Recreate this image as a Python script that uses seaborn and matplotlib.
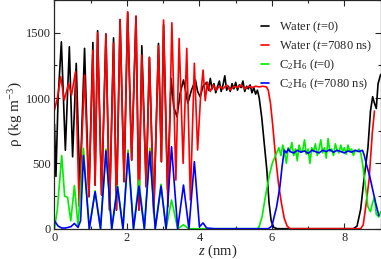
import pandas as pd
import seaborn as sns
import matplotlib.pyplot as plt
from matplotlib.ticker import MultipleLocator

sns.set_style("ticks")
plt.rcParams['font.family'] = ['Liberation Serif', 'DejaVu Serif']
plt.rcParams['mathtext.fontset'] = 'custom'
plt.rcParams['mathtext.rm'] = 'Liberation Serif'
plt.rcParams['mathtext.it'] = 'Liberation Serif:italic'

# density profiles: (z in nm, rho in kg/m^3)
water_t0 = [
    (0.00, 800), (0.04, 400), (0.10, 1000), (0.19, 1430), (0.30, 600), (0.41, 1392),
    (0.50, 550), (0.60, 1265), (0.70, 320), (0.83, 1380), (0.95, 245), (1.06, 1425),
    (1.12, 334), (1.19, 1515), (1.30, 258), (1.42, 1490), (1.52, 143), (1.63, 1460),
    (1.71, 143), (1.81, 1600), (1.92, 360), (2.02, 1655), (2.13, 525), (2.25, 1625),
    (2.33, 143), (2.41, 1400), (2.53, 321), (2.62, 1311), (2.74, 118), (2.87, 1418),
    (2.95, 513), (3.01, 1560), (3.12, 300), (3.22, 1150), (3.29, 933), (3.38, 857),
    (3.47, 1040), (3.56, 1138), (3.62, 1050), (3.68, 960), (3.78, 1060), (3.89, 1138),
    (3.95, 1050), (4.02, 1010), (4.10, 1090), (4.20, 1120), (4.25, 1060), (4.30, 1150),
    (4.35, 1070), (4.40, 1110), (4.45, 1040), (4.50, 1090), (4.55, 1130), (4.60, 1050),
    (4.65, 1100), (4.70, 1170), (4.75, 1060), (4.80, 1090), (4.85, 1050), (4.90, 1110),
    (4.95, 1070), (5.00, 1120), (5.05, 1060), (5.10, 1100), (5.15, 1080), (5.20, 1130),
    (5.25, 1050), (5.30, 1090), (5.35, 1070), (5.40, 1100), (5.45, 1040), (5.50, 1080),
    (5.55, 1030), (5.60, 1060), (5.65, 1000), (5.72, 850), (5.80, 620), (5.86, 450),
    (5.92, 200), (5.98, 60), (6.05, 10), (6.15, 0), (8.25, 0), (8.35, 20), (8.45, 150),
    (8.55, 400), (8.65, 620), (8.72, 900), (8.78, 1010), (8.83, 960), (8.88, 920),
    (8.93, 1110), (9.00, 1180),
]

water_t7080 = [
    (0.00, 908), (0.08, 1000), (0.17, 1163), (0.27, 985), (0.39, 1112), (0.47, 1023),
    (0.58, 1201), (0.68, 170), (0.83, 1176), (0.95, 245), (1.06, 1367), (1.12, 334),
    (1.19, 1500), (1.30, 258), (1.42, 1490), (1.52, 143), (1.63, 1420), (1.71, 143),
    (1.81, 1600), (1.92, 360), (2.02, 1660), (2.13, 525), (2.25, 1627), (2.33, 143),
    (2.41, 1330), (2.53, 321), (2.62, 1311), (2.74, 118), (2.87, 1400), (2.95, 513),
    (3.01, 1597), (3.13, 168), (3.24, 1576), (3.35, 372), (3.44, 1456), (3.55, 500),
    (3.65, 1380), (3.75, 220), (3.86, 1266), (3.95, 602), (4.03, 1000), (4.10, 1214),
    (4.16, 980), (4.22, 1120), (4.30, 1050), (4.38, 1100), (4.46, 1060), (4.55, 1090),
    (4.65, 1070), (4.75, 1100), (4.85, 1060), (4.95, 1090), (5.05, 1080), (5.15, 1100),
    (5.25, 1070), (5.35, 1090), (5.45, 1080), (5.55, 1090), (5.65, 1085), (5.75, 1090),
    (5.85, 1085), (5.90, 1060), (5.96, 960), (6.02, 800), (6.10, 550), (6.18, 350),
    (6.26, 200), (6.34, 80), (6.42, 20), (6.50, 0), (8.45, 0), (8.52, 30), (8.59, 170),
    (8.68, 370), (8.77, 730), (8.83, 900),
]

ethane_t0 = [
    (0.00, 0), (0.08, 150), (0.20, 560), (0.28, 250), (0.36, 240), (0.45, 60),
    (0.55, 330), (0.65, 20), (0.80, 615), (0.96, 0), (1.12, 290), (1.27, 0),
    (1.42, 610), (1.58, 0), (1.74, 330), (1.89, 0), (2.03, 602), (2.18, 0),
    (2.33, 372), (2.48, 0), (2.63, 616), (2.78, 0), (2.94, 340), (3.08, 0),
    (3.23, 220), (3.40, 0), (3.56, 30), (3.70, 0), (5.60, 0), (5.64, 10),
    (5.73, 92), (5.82, 245), (5.92, 398), (6.01, 500), (6.10, 560), (6.19, 620),
    (6.25, 560), (6.30, 640), (6.35, 580), (6.40, 500), (6.45, 620), (6.50, 590),
    (6.55, 660), (6.60, 560), (6.65, 610), (6.70, 520), (6.75, 640), (6.80, 590),
    (6.85, 600), (6.90, 680), (6.95, 570), (7.00, 610), (7.05, 500), (7.10, 620),
    (7.15, 590), (7.20, 650), (7.25, 560), (7.30, 610), (7.35, 680), (7.40, 580),
    (7.45, 620), (7.50, 540), (7.55, 690), (7.60, 590), (7.65, 610), (7.70, 560),
    (7.75, 650), (7.80, 600), (7.85, 580), (7.90, 640), (7.95, 590), (8.00, 620),
    (8.05, 570), (8.10, 640), (8.15, 590), (8.20, 610), (8.25, 560), (8.30, 600),
    (8.35, 590), (8.40, 610), (8.45, 580), (8.50, 500), (8.58, 330), (8.65, 168),
    (8.72, 130), (8.78, 200), (8.83, 240), (8.88, 110), (8.95, 90), (9.00, 130),
]

ethane_t7080 = [
    (0.00, 60), (0.10, 20), (0.20, 5), (0.30, 5), (0.45, 15), (0.55, 40), (0.65, 10),
    (0.72, 60), (0.80, 560), (0.96, 0), (1.12, 283), (1.27, 0), (1.42, 595), (1.58, 0),
    (1.74, 320), (1.89, 0), (2.03, 577), (2.18, 0), (2.33, 326), (2.48, 0), (2.63, 589),
    (2.78, 0), (2.94, 326), (3.08, 0), (3.23, 627), (3.40, 0), (3.56, 334), (3.71, 0),
    (3.86, 513), (4.00, 15), (4.10, 44), (4.20, 5), (4.40, 0), (5.90, 0), (6.00, 20),
    (6.13, 168), (6.22, 321), (6.28, 474), (6.34, 602), (6.40, 580), (6.45, 610),
    (6.50, 590), (6.60, 580), (6.70, 600), (6.80, 585), (6.90, 595), (7.00, 575),
    (7.10, 600), (7.20, 590), (7.30, 580), (7.40, 600), (7.50, 590), (7.60, 605),
    (7.70, 585), (7.80, 600), (7.90, 590), (8.00, 580), (8.10, 595), (8.20, 585),
    (8.30, 600), (8.40, 590), (8.50, 600), (8.55, 560), (8.62, 480), (8.70, 400),
    (8.78, 300), (8.86, 200), (8.95, 100),
]

labels = ["Water ($t$=0)", "Water ($t$=7080 ns)",
          "C$_2$H$_6$ ($t$=0)", "C$_2$H$_6$ ($t$=7080 ns)"]
colors = ["black", "red", "#00ee00", "blue"]

frames = []
for lab, pts in zip(labels, [water_t0, water_t7080, ethane_t0, ethane_t7080]):
    z, rho = zip(*pts)
    frames.append(pd.DataFrame({"z": z, "rho": rho, "series": lab}))
df = pd.concat(frames, ignore_index=True)

fig = plt.figure(figsize=(3.81, 2.59), dpi=100)
ax = fig.add_axes([0.143, 0.117, 0.856, 0.883])
sns.lineplot(data=df, x="z", y="rho", hue="series", hue_order=labels,
             palette=dict(zip(labels, colors)), estimator=None, sort=False,
             lw=1.2, ax=ax)

ax.set_xlim(0, 9)
ax.set_ylim(0, 1750)
ax.xaxis.set_major_locator(MultipleLocator(2))
ax.xaxis.set_minor_locator(MultipleLocator(1))
ax.yaxis.set_major_locator(MultipleLocator(500))
ax.yaxis.set_minor_locator(MultipleLocator(250))
ax.tick_params(which='both', direction='in', top=True, right=True, labelsize=9,
               width=0.8, pad=2.5)
ax.tick_params(which='major', length=4)
ax.tick_params(which='minor', length=2.5)
for s in ax.spines.values():
    s.set_linewidth(0.9)

ax.set_xlabel("$z$ (nm)", fontsize=10.5, labelpad=-1)
ax.set_ylabel("ρ (kg m$^{-3}$)", fontsize=11, labelpad=1)

ax.legend(loc='upper right', bbox_to_anchor=(0.975, 0.915), frameon=False,
          fontsize=9, handlelength=0.7, handletextpad=0.8, labelspacing=0.3,
          borderpad=0, borderaxespad=0)

fig.savefig("out.png", dpi=100)
